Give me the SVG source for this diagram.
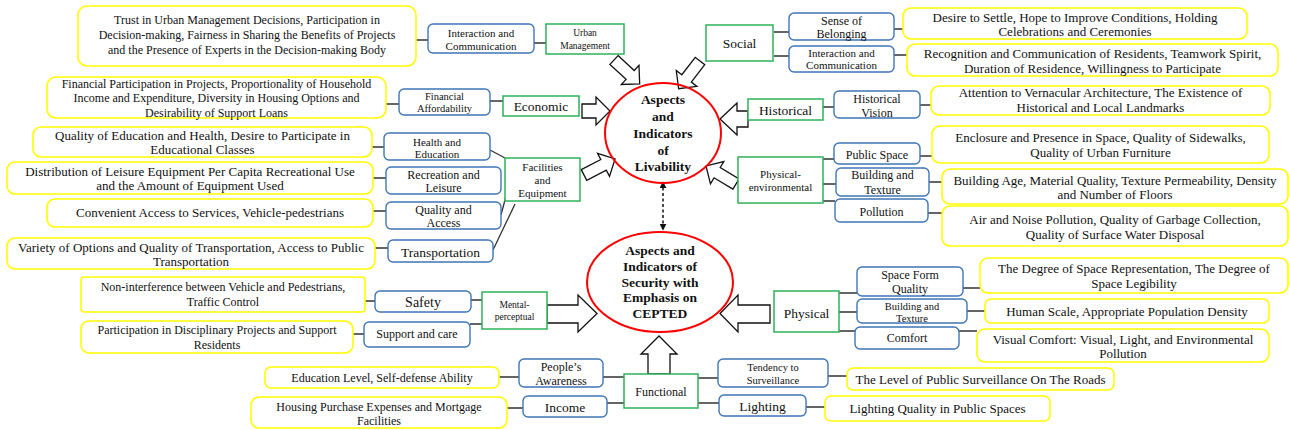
<svg xmlns="http://www.w3.org/2000/svg" width="1289" height="430" viewBox="0 0 1289 430" font-family="Liberation Serif, Tinos, Times New Roman, serif">
<defs>
<style>
text{fill:#111;text-anchor:middle}
.y{fill:#fff;stroke:#ffff00;stroke-width:1.6}
.b{fill:#fff;stroke:#3f76b8;stroke-width:1.4}
.g{fill:#fff;stroke:#2cb35a;stroke-width:1.5}
.e{fill:none;stroke:#ff0000;stroke-width:2}
.c{stroke:#333;stroke-width:1.3;fill:none}
.ar{fill:#fff;stroke:#111;stroke-width:1.3;stroke-linejoin:miter}
.f12{font-size:12px}.f13{font-size:13px}.f11{font-size:11px}.f105{font-size:10.5px}
.f95{font-size:9.5px}.f135{font-size:13.5px}.f14{font-size:14px}
.bold{font-weight:bold;font-size:13.5px}
</style>
<path id="da" d="M0,-6 L22,-6 L22,-13 L35,0 L22,13 L22,6 L0,6 Z"/>
<marker id="mk" viewBox="0 0 10 10" refX="9" refY="5" markerWidth="7" markerHeight="7" orient="auto-start-reverse" markerUnits="userSpaceOnUse"><path d="M0,0 L10,5 L0,10 Z" fill="#111"/></marker>
</defs>
<rect width="1289" height="430" fill="#fff"/>

<g id="connectors">
<path class="c" d="M416,40H428M534,43H546M386,104H399M490,101H503M372,147H384M373,178H386M373,211H386M375,248H388M490,150L505,158M501,215L506,196M493,250L515,204"/>
<path class="c" d="M774,32H789M774,56H789M894,29H903M894,55H907M823,107H834M920,105H931M823,159H834M823,184H836M823,201H835M920,156H932M929,182H942M928,213H942"/>
<path class="c" d="M365,301H375M353,334H364M471,300H482M470,324H482M839,293H857M839,312H857M839,331H855M963,288H980M967,311H985M959,331H977"/>
<path class="c" d="M499,377H519M507,408H523M603,377H624M607,403H624M698,378H718M698,403H719M828,376H847M806,407H825"/>
<line x1="663" y1="182" x2="663" y2="230" stroke="#111" stroke-width="1.5" stroke-dasharray="3,2.5" marker-start="url(#mk)" marker-end="url(#mk)"/>
<use href="#da" class="ar" transform="translate(614,60) rotate(42.8)"/>
<use href="#da" class="ar" transform="translate(700,61) rotate(127.6)"/>
<use href="#da" class="ar" transform="translate(736,184) rotate(211)"/>
<use href="#da" class="ar" transform="translate(584,175) rotate(-27.4)"/>
<path class="ar" d="M582,104 L596,104 L596,97 L610,111 L596,125 L596,118 L582,118 Z"/>
<path class="ar" d="M748,111 L737,111 L737,103 L720,119 L737,135 L737,127 L748,127 Z"/>
<path class="ar" d="M547,305 L578,305 L578,295 L597,313.5 L578,332 L578,323 L547,323 Z"/>
<path class="ar" d="M770,305 L738,305 L738,295 L720,313.5 L738,332 L738,323 L770,323 Z"/>
<path class="ar" d="M648,374 L648,354 L641,354 L659,336 L677,354 L670,354 L670,374 Z"/>
</g>

<g id="livability">
<ellipse class="e" cx="663" cy="133" rx="58" ry="50"/>
<text class="bold"><tspan x="663" y="104">Aspects</tspan><tspan x="663" y="121">and</tspan><tspan x="663" y="138">Indicators</tspan><tspan x="663" y="155">of</tspan><tspan x="663" y="171">Livability</tspan></text>
</g>
<g id="security">
<ellipse class="e" cx="660" cy="282" rx="73" ry="50"/>
<text class="bold"><tspan x="660" y="255">Aspects and</tspan><tspan x="660" y="271">Indicators of</tspan><tspan x="660" y="287">Security with</tspan><tspan x="660" y="302">Emphasis on</tspan><tspan x="660" y="318">CEPTED</tspan></text>
</g>

<g id="urban-management"><rect class="g" x="546" y="24" width="78" height="30"/><text class="f95"><tspan x="585" y="36">Urban</tspan><tspan x="585" y="49">Management</tspan></text></g>
<g id="economic"><rect class="g" x="503" y="96" width="76" height="20"/><text class="f135" x="541" y="111">Economic</text></g>
<g id="facilities"><rect class="g" x="505" y="158" width="75" height="43"/><text class="f11"><tspan x="542.5" y="171">Facilities</tspan><tspan x="542.5" y="184">and</tspan><tspan x="542.5" y="197">Equipment</tspan></text></g>
<g id="social"><rect class="g" x="706" y="25" width="67" height="36"/><text class="f135" x="739.5" y="47.5">Social</text></g>
<g id="historical"><rect class="g" x="748" y="99" width="75" height="21"/><text class="f135" x="785.5" y="114.5">Historical</text></g>
<g id="physical-environmental"><rect class="g" x="738" y="157" width="85" height="46"/><text class="f11"><tspan x="780.5" y="178">Physical-</tspan><tspan x="780.5" y="191">environmental</tspan></text></g>
<g id="mental-perceptual"><rect class="g" x="482" y="292" width="65" height="37"/><text class="f95"><tspan x="514.5" y="308">Mental-</tspan><tspan x="514.5" y="319.5">perceptual</tspan></text></g>
<g id="physical"><rect class="g" x="774" y="291" width="65" height="41"/><text class="f135" x="806.5" y="317.5">Physical</text></g>
<g id="functional"><rect class="g" x="624" y="374" width="74" height="34"/><text class="f12" x="661" y="395.5">Functional</text></g>

<g id="interaction-communication-1"><rect class="b" x="428" y="24" width="106" height="29" rx="5"/><text class="f11"><tspan x="481" y="37">Interaction and</tspan><tspan x="481" y="50">Communication</tspan></text></g>
<g id="financial-affordability"><rect class="b" x="399" y="89" width="91" height="26" rx="5"/><text class="f105"><tspan x="444.5" y="99.5">Financial</tspan><tspan x="444.5" y="112">Affordability</tspan></text></g>
<g id="health-education"><rect class="b" x="384" y="133" width="106" height="27" rx="5"/><text class="f11"><tspan x="437" y="145.5">Health and</tspan><tspan x="437" y="158">Education</tspan></text></g>
<g id="recreation-leisure"><rect class="b" x="386" y="167" width="115" height="27" rx="5"/><text class="f12"><tspan x="443.5" y="178.5">Recreation and</tspan><tspan x="443.5" y="192">Leisure</tspan></text></g>
<g id="quality-access"><rect class="b" x="386" y="202" width="115" height="27" rx="5"/><text class="f12"><tspan x="443.5" y="213.5">Quality and</tspan><tspan x="443.5" y="227">Access</tspan></text></g>
<g id="transportation"><rect class="b" x="388" y="240" width="105" height="22" rx="5"/><text class="f135" x="440.5" y="256.5">Transportation</text></g>
<g id="sense-belonging"><rect class="b" x="789" y="13" width="105" height="27" rx="5"/><text class="f12"><tspan x="841.5" y="24.5">Sense of</tspan><tspan x="841.5" y="37.5">Belonging</tspan></text></g>
<g id="interaction-communication-2"><rect class="b" x="789" y="46" width="105" height="26" rx="5"/><text class="f11"><tspan x="841.5" y="57">Interaction and</tspan><tspan x="841.5" y="69">Communication</tspan></text></g>
<g id="historical-vision"><rect class="b" x="834" y="91" width="86" height="27" rx="5"/><text class="f12"><tspan x="877" y="102.5">Historical</tspan><tspan x="877" y="117">Vision</tspan></text></g>
<g id="public-space"><rect class="b" x="834" y="143" width="86" height="21" rx="5"/><text class="f12" x="877" y="159">Public Space</text></g>
<g id="building-texture-1"><rect class="b" x="836" y="168" width="93" height="28" rx="5"/><text class="f12"><tspan x="882.5" y="179">Building and</tspan><tspan x="882.5" y="194">Texture</tspan></text></g>
<g id="pollution"><rect class="b" x="835" y="199" width="93" height="23" rx="5"/><text class="f12" x="881.5" y="216">Pollution</text></g>
<g id="safety"><rect class="b" x="375" y="291" width="96" height="21" rx="5"/><text class="f14" x="423" y="306.5">Safety</text></g>
<g id="support-care"><rect class="b" x="364" y="322" width="106" height="25" rx="5"/><text class="f12" x="417" y="338">Support and care</text></g>
<g id="peoples-awareness"><rect class="b" x="519" y="359" width="84" height="28" rx="5"/><text class="f12"><tspan x="561" y="371">People’s</tspan><tspan x="561" y="385">Awareness</tspan></text></g>
<g id="income"><rect class="b" x="523" y="396" width="84" height="21" rx="5"/><text class="f135" x="565" y="411.5">Income</text></g>
<g id="space-form-quality"><rect class="b" x="857" y="267" width="106" height="29" rx="5"/><text class="f12"><tspan x="910" y="279">Space Form</tspan><tspan x="910" y="293">Quality</tspan></text></g>
<g id="building-texture-2"><rect class="b" x="857" y="299" width="110" height="24" rx="5"/><text class="f105"><tspan x="912" y="309.5">Building and</tspan><tspan x="912" y="321.5">Texture</tspan></text></g>
<g id="comfort"><rect class="b" x="855" y="327" width="104" height="22" rx="5"/><text class="f12" x="907" y="342">Comfort</text></g>
<g id="tendency-surveillance"><rect class="b" x="718" y="359" width="110" height="28" rx="5"/><text class="f105"><tspan x="773" y="370.5">Tendency to</tspan><tspan x="773" y="383.5">Surveillance</tspan></text></g>
<g id="lighting"><rect class="b" x="719" y="395" width="87" height="21" rx="5"/><text class="f135" x="762.5" y="411">Lighting</text></g>

<g id="y-trust"><rect class="y" x="78" y="6" width="338" height="60" rx="9"/><text class="f12"><tspan x="247" y="24">Trust in Urban Management Decisions, Participation in</tspan><tspan x="247" y="39">Decision-making, Fairness in Sharing the Benefits of Projects</tspan><tspan x="247" y="53.5">and the Presence of Experts in the Decision-making Body</tspan></text></g>
<g id="y-financial"><rect class="y" x="47" y="77" width="339" height="41" rx="9"/><text class="f12"><tspan x="216.5" y="87.5">Financial Participation in Projects, Proportionality of Household</tspan><tspan x="216.5" y="102">Income and Expenditure, Diversity in Housing Options and</tspan><tspan x="216.5" y="117">Desirability of Support Loans</tspan></text></g>
<g id="y-education"><rect class="y" x="33" y="127" width="339" height="30" rx="8"/><text class="f13"><tspan x="202.5" y="139.5">Quality of Education and Health, Desire to Participate in</tspan><tspan x="202.5" y="153.5">Educational Classes</tspan></text></g>
<g id="y-leisure"><rect class="y" x="7" y="162" width="366" height="32" rx="8"/><text class="f13"><tspan x="190" y="175.5">Distribution of Leisure Equipment Per Capita Recreational Use</tspan><tspan x="190" y="189.5">and the Amount of Equipment Used</tspan></text></g>
<g id="y-access"><rect class="y" x="47" y="199" width="326" height="28" rx="8"/><text class="f13" x="210" y="216.5">Convenient Access to Services, Vehicle-pedestrians</text></g>
<g id="y-transport"><rect class="y" x="7" y="238" width="368" height="31" rx="8"/><text class="f13"><tspan x="191" y="251.5">Variety of Options and Quality of Transportation, Access to Public</tspan><tspan x="191" y="266">Transportation</tspan></text></g>
<g id="y-noninterference"><rect class="y" x="81" y="277" width="284" height="35" rx="3"/><text class="f12"><tspan x="223" y="291">Non-interference between Vehicle and Pedestrians,</tspan><tspan x="223" y="306">Traffic Control</tspan></text></g>
<g id="y-disciplinary"><rect class="y" x="81" y="321" width="272" height="32" rx="8"/><text class="f12"><tspan x="217" y="334">Participation in Disciplinary Projects and Support</tspan><tspan x="217" y="349">Residents</tspan></text></g>
<g id="y-education-level"><rect class="y" x="265" y="367" width="234" height="21" rx="6"/><text class="f12" x="382" y="382">Education Level, Self-defense Ability</text></g>
<g id="y-housing"><rect class="y" x="251" y="397" width="256" height="31" rx="8"/><text class="f12"><tspan x="379" y="411">Housing Purchase Expenses and Mortgage</tspan><tspan x="379" y="425">Facilities</tspan></text></g>
<g id="y-settle"><rect class="y" x="903" y="8" width="344" height="31" rx="8"/><text class="f13"><tspan x="1075" y="21.5">Desire to Settle, Hope to Improve Conditions, Holding</tspan><tspan x="1075" y="36">Celebrations and Ceremonies</tspan></text></g>
<g id="y-recognition"><rect class="y" x="907" y="44" width="371" height="32" rx="8"/><text class="f13"><tspan x="1092.5" y="57.5">Recognition and Communication of Residents, Teamwork Spirit,</tspan><tspan x="1092.5" y="73">Duration of Residence, Willingness to Participate</tspan></text></g>
<g id="y-vernacular"><rect class="y" x="931" y="86" width="339" height="29" rx="8"/><text class="f13"><tspan x="1100.5" y="96.5">Attention to Vernacular Architecture, The Existence of</tspan><tspan x="1100.5" y="112">Historical and Local Landmarks</tspan></text></g>
<g id="y-enclosure"><rect class="y" x="932" y="126" width="337" height="37" rx="8"/><text class="f13"><tspan x="1100.5" y="141.5">Enclosure and Presence in Space, Quality of Sidewalks,</tspan><tspan x="1100.5" y="157">Quality of Urban Furniture</tspan></text></g>
<g id="y-building"><rect class="y" x="942" y="169" width="346" height="35" rx="8"/><text class="f13"><tspan x="1115" y="184.5">Building Age, Material Quality, Texture Permeability, Density</tspan><tspan x="1115" y="198.5">and Number of Floors</tspan></text></g>
<g id="y-pollution"><rect class="y" x="942" y="206" width="346" height="40" rx="8"/><text class="f13"><tspan x="1115" y="223.5">Air and Noise Pollution, Quality of Garbage Collection,</tspan><tspan x="1115" y="238.5">Quality of Surface Water Disposal</tspan></text></g>
<g id="y-space"><rect class="y" x="980" y="258" width="308" height="35" rx="8"/><text class="f13"><tspan x="1134" y="272.5">The Degree of Space Representation, The Degree of</tspan><tspan x="1134" y="287.5">Space Legibility</tspan></text></g>
<g id="y-scale"><rect class="y" x="985" y="299" width="284" height="24" rx="6"/><text class="f13" x="1127" y="315.5">Human Scale, Appropriate Population Density</text></g>
<g id="y-visual"><rect class="y" x="977" y="329" width="292" height="33" rx="8"/><text class="f13"><tspan x="1123" y="343.5">Visual Comfort: Visual, Light, and Environmental</tspan><tspan x="1123" y="357.5">Pollution</tspan></text></g>
<g id="y-surveillance"><rect class="y" x="847" y="368" width="267" height="22" rx="6"/><text class="f13" x="980.5" y="383.5">The Level of Public Surveillance On The Roads</text></g>
<g id="y-lighting"><rect class="y" x="825" y="396" width="225" height="25" rx="6"/><text class="f13" x="937.5" y="412.5">Lighting Quality in Public Spaces</text></g>
</svg>
